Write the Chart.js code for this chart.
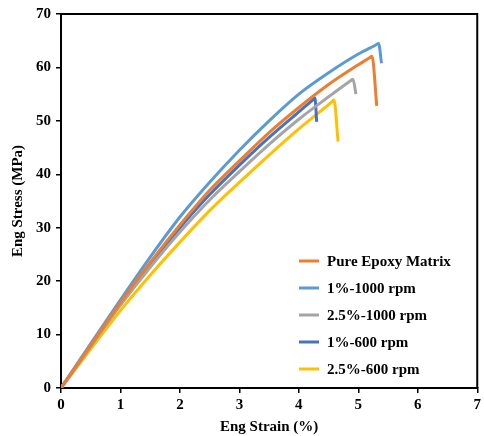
<!DOCTYPE html>
<html>
<head>
<meta charset="utf-8">
<script src="https://cdn.jsdelivr.net/npm/chart.js@4"></script>
<style>
  body { margin: 0; background: #fff; }
  canvas { display: block; }
</style>
</head>
<body>
<canvas id="stressChart" width="484" height="436"></canvas>
<script>
// series names and colours
var seriesNames = ['Pure Epoxy Matrix', '1%-1000 rpm', '2.5%-1000 rpm', '1%-600 rpm', '2.5%-600 rpm'];
var seriesColors = ['#ED7D31', '#5B9BD5', '#A5A5A5', '#4472C4', '#FFC000'];

// strain (%) / stress (MPa)
var pureStrain = [0, 0.5, 1, 1.5, 2, 2.5, 3, 3.5, 4, 4.5, 5, 5.19, 5.23, 5.31];
var pureStress = [0, 8, 16, 23.5, 30.5, 37, 42.5, 47.8, 52.5, 56.8, 60.5, 61.8, 62.1, 52.8];

var p1k1Strain = [0, 0.5, 1, 1.5, 2, 2.5, 3, 3.5, 4, 4.5, 5, 5.3, 5.34, 5.39];
var p1k1Stress = [0, 8.3, 16.5, 24.5, 32, 38.5, 44.5, 50, 55, 59, 62.5, 64.25, 64.5, 60.8];

var p25k1Strain = [0, 0.5, 1, 1.5, 2, 2.5, 3, 3.5, 4, 4.5, 4.87, 4.91, 4.96];
var p25k1Stress = [0, 7.8, 15.5, 22.6, 29.2, 35.2, 40.5, 45.6, 50.3, 54.5, 57.5, 57.8, 55];

var p1r6Strain = [0, 0.5, 1, 1.5, 2, 2.5, 3, 3.5, 4, 4.23, 4.27, 4.30];
var p1r6Stress = [0, 7.9, 15.8, 23.2, 30, 36.2, 41.7, 46.9, 51.7, 53.9, 54.3, 49.8];

var p25r6Strain = [0, 0.5, 1, 1.5, 2, 2.5, 3, 3.5, 4, 4.55, 4.59, 4.66];
var p25r6Stress = [0, 7.3, 14.5, 21.1, 27.3, 33.2, 38.5, 43.6, 48.5, 53.5, 53.9, 46.1];

var xTicks = [0, 1, 2, 3, 4, 5, 6, 7];
var yTicks = [0, 10, 20, 30, 40, 50, 60, 70];

function toPoints(xs, ys) {
    return xs.map(function (x, i) {
        return { x: x, y: ys[i] };
    });
}

var allStrain = [pureStrain, p1k1Strain, p25k1Strain, p1r6Strain, p25r6Strain];
var allStress = [pureStress, p1k1Stress, p25k1Stress, p1r6Stress, p25r6Stress];

var datasets = seriesNames.map(function (name, i) {
    return {
        label: name,
        data: toPoints(allStrain[i], allStress[i]),
        borderColor: seriesColors[i],
        backgroundColor: seriesColors[i],
        borderWidth: 3,
        pointRadius: 0,
        cubicInterpolationMode: 'monotone',
        fill: false
    };
});

var serif = '"Liberation Serif", "Times New Roman", serif';

// box around the plot + legend inside the plot area
var framePlugin = {
    id: 'frame',
    afterDraw: function (chart) {
        var c = chart.ctx, a = chart.chartArea;
        c.save();
        c.strokeStyle = '#000';
        c.lineWidth = 2;
        c.beginPath();
        c.moveTo(a.left, a.top);
        c.lineTo(a.right, a.top);
        c.lineTo(a.right, a.bottom);
        c.stroke();

        c.font = 'bold 15px ' + serif;
        c.textBaseline = 'middle';
        c.fillStyle = '#000';
        chart.data.datasets.forEach(function (ds, i) {
            var y = 261 + i * 27;
            c.strokeStyle = ds.borderColor;
            c.lineWidth = 3;
            c.beginPath();
            c.moveTo(299, y);
            c.lineTo(319, y);
            c.stroke();
            c.fillText(ds.label, 327, y + 1);
        });
        c.restore();
    }
};

var ctx = document.getElementById('stressChart').getContext('2d');
var stressChart = new Chart(ctx, {
    type: 'line',
    data: { datasets: datasets },
    options: {
        responsive: false,
        animation: false,
        layout: { padding: { top: 4, right: 3, left: 9, bottom: 0 } },
        plugins: {
            legend: { display: false },
            tooltip: { enabled: false }
        },
        scales: {
            x: {
                type: 'linear',
                min: 0,
                max: 7,
                afterBuildTicks: function (axis) {
                    axis.ticks = xTicks.map(function (v) { return { value: v }; });
                },
                border: { color: '#000', width: 2 },
                grid: { drawOnChartArea: false, drawTicks: true, tickLength: 5, color: '#000', lineWidth: 1.5 },
                ticks: { color: '#000', font: { family: serif, size: 15, weight: 'bold' }, padding: 3, maxRotation: 0 },
                title: { display: true, text: 'Eng Strain (%)', color: '#000', font: { family: serif, size: 15, weight: 'bold' }, padding: { top: 1, bottom: 0 } }
            },
            y: {
                min: 0,
                max: 70,
                afterBuildTicks: function (axis) {
                    axis.ticks = yTicks.map(function (v) { return { value: v }; });
                },
                border: { color: '#000', width: 2 },
                grid: { drawOnChartArea: false, drawTicks: true, tickLength: 5, color: '#000', lineWidth: 1.5 },
                ticks: { color: '#000', font: { family: serif, size: 15, weight: 'bold' }, padding: 5 },
                title: { display: true, text: 'Eng Stress (MPa)', color: '#000', font: { family: serif, size: 15, weight: 'bold' }, padding: { top: 0, bottom: 4 } }
            }
        }
    },
    plugins: [framePlugin]
});
</script>
</body>
</html>
